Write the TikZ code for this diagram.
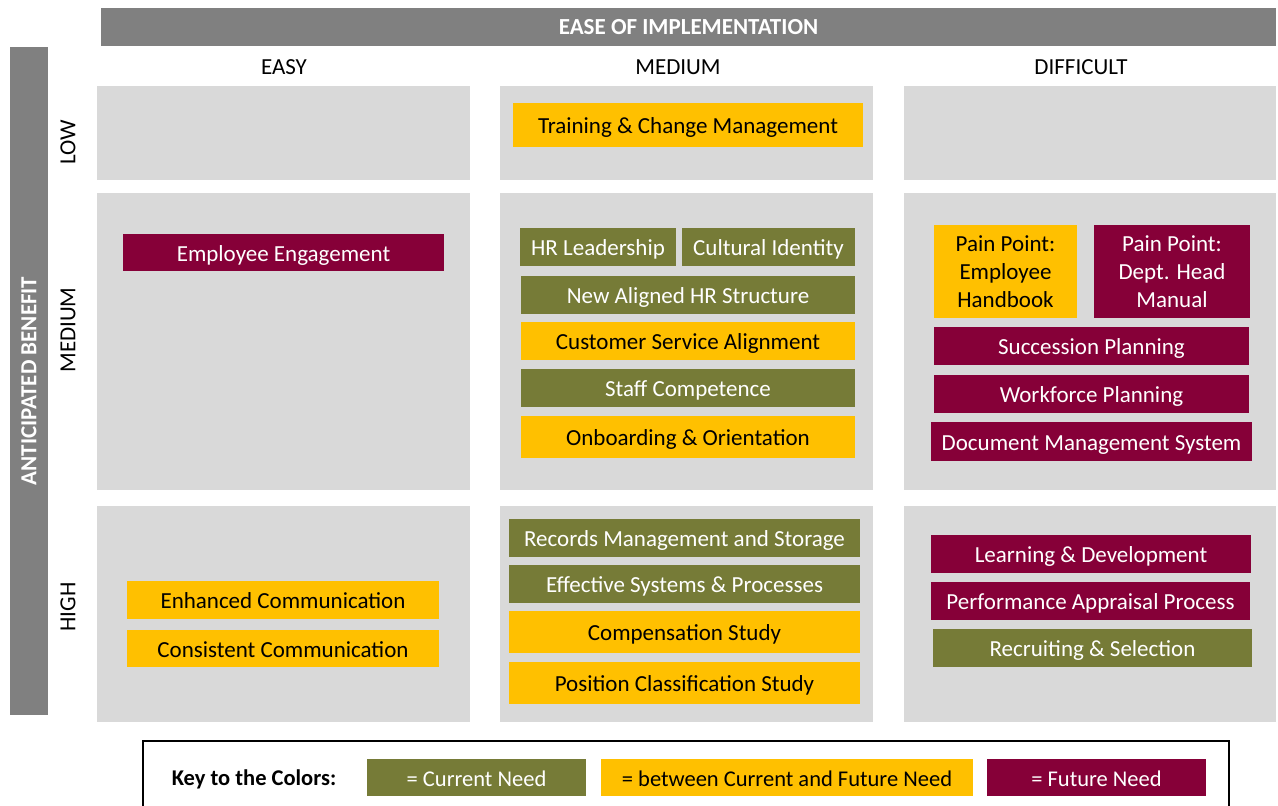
\documentclass[tikz,border=0pt]{standalone}
\usepackage{fontspec}
\setmainfont{Carlito}
\usepackage{xcolor}
\usetikzlibrary{positioning}

\definecolor{curneed}{HTML}{767B37}
\definecolor{midneed}{HTML}{FFC000}
\definecolor{futneed}{HTML}{860038}
\definecolor{panelgray}{HTML}{D9D9D9}
\definecolor{bannergray}{HTML}{808080}

\begin{document}
\begin{tikzpicture}[
        x=1pt, y=-1pt,
        font=\fontsize{23}{28}\selectfont,
        box/.style={rectangle, inner sep=0pt, align=center, minimum height=38pt,
            text height=19pt, text depth=2pt},
        current/.style={box, fill=curneed, text=white},
        between/.style={box, fill=midneed, text=black},
        future/.style={box, fill=futneed, text=white},
        painpoint/.style={text height=, text depth=, minimum width=#1, minimum height=93pt},
        banner/.style={rectangle, inner sep=0pt, fill=bannergray, text=white,
            font=\fontsize{23}{28}\selectfont\bfseries, minimum height=38pt},
        keyswatch/.style={box, minimum height=37pt, font=\fontsize{22.5}{26}\selectfont}
    ]
        \useasboundingbox (0,0) rectangle (1278,806);

        % grey cells of the matrix
        \foreach \xa/\xb in {97/470, 500/873, 904/1276}
            \foreach \ya/\yb in {86/180, 193/490, 506/722}
                \fill[panelgray] (\xa,\ya) rectangle (\xb,\yb);

        % axis banners
        \node[banner, minimum width=1175pt] (ease) at (688.5,27) {EASE OF IMPLEMENTATION};
        \node[banner, rotate=90, minimum width=668pt] (benefit) at (29,381) {ANTICIPATED BENEFIT};

        \node (easy) at (284,67) {EASY};
        \node (medium) at (678,67) {MEDIUM};
        \node (difficult) at (1081,67) {DIFFICULT};

        \node[rotate=90] (low) at (68,142) {LOW};
        \node[rotate=90] (mid) at (68,330) {MEDIUM};
        \node[rotate=90] (high) at (68,607) {HIGH};

        % low benefit
        \node[between, minimum width=350pt, minimum height=44pt] (training) at (688,125) {Training \& Change Management};

        % medium benefit
        \node[future, minimum width=321pt, minimum height=37pt] (engage) at (283.5,252.5) {Employee Engagement};

        \node[current, minimum width=156pt] (hrlead) at (598,247) {HR Leadership};
        \node[current, minimum width=173pt] (culture) at (768.5,247) {Cultural Identity};
        \node[current, minimum width=334pt] (hrstruct) at (688,295) {New Aligned HR Structure};
        \node[between, minimum width=334pt] (custserv) at (688,341) {Customer Service Alignment};
        \node[current, minimum width=334pt] (staff) at (688,388) {Staff Competence};
        \node[between, minimum width=334pt, minimum height=42pt] (onboard) at (688,437) {Onboarding \& Orientation};

        \node[between, painpoint=143pt] (handbook) at (1005.5,271.5) {Pain Point:\\Employee\\Handbook};
        \node[future, painpoint=156pt] (manual) at (1172,271.5) {Pain Point:\\Dept. Head\\Manual};
        \node[future, minimum width=315pt] (succession) at (1091.5,346) {Succession Planning};
        \node[future, minimum width=315pt] (workforce) at (1091.5,394) {Workforce Planning};
        \node[future, minimum width=321pt, minimum height=39pt] (docmgmt) at (1091.5,441.5) {Document Management System};

        % high benefit
        \node[between, minimum width=312pt] (enhanced) at (283,600) {Enhanced Communication};
        \node[between, minimum width=312pt, minimum height=37pt] (consistent) at (283,648.5) {Consistent Communication};

        \node[current, minimum width=351pt] (records) at (684.5,538) {Records Management and Storage};
        \node[current, minimum width=351pt] (systems) at (684.5,584) {Effective Systems \& Processes};
        \node[between, minimum width=351pt, minimum height=42pt] (compstudy) at (684.5,632) {Compensation Study};
        \node[between, minimum width=351pt, minimum height=42pt] (posstudy) at (684.5,683) {Position Classification Study};

        \node[future, minimum width=320pt] (learning) at (1091,554) {Learning \& Development};
        \node[future, minimum width=319pt] (appraisal) at (1090.5,601) {Performance Appraisal Process};
        \node[current, minimum width=319pt] (recruit) at (1092.5,648) {Recruiting \& Selection};

        % colour key
        \draw[line width=2pt] (143,741) rectangle (1229,820);
        \node[font=\fontsize{22.5}{26}\selectfont\bfseries] (keytitle) at (254,779) {Key to the Colors:};
        \node[keyswatch, fill=curneed, text=white, minimum width=219pt] (keycur) at (476.5,777.5) {= Current Need};
        \node[keyswatch, fill=midneed, minimum width=372pt] (keymid) at (787,777.5) {= between Current and Future Need};
        \node[keyswatch, fill=futneed, text=white, minimum width=219pt] (keyfut) at (1096.5,777.5) {= Future Need};
    \end{tikzpicture}
\end{document}
